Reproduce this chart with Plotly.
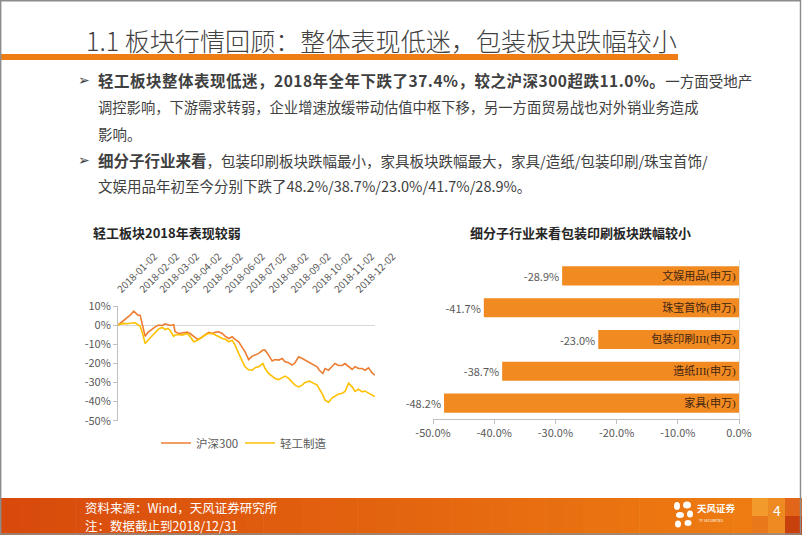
import plotly.graph_objects as go

W, H = 802, 535
def px(x): return x / W
def py(y): return 1 - y / H

# ---------------- data ----------------
dates = ['2018-01-02','2018-01-05','2018-01-10','2018-01-15','2018-01-19','2018-01-24','2018-01-26','2018-01-30',
         '2018-02-02','2018-02-06','2018-02-09','2018-02-13','2018-02-23','2018-02-28',
         '2018-03-05','2018-03-09','2018-03-13','2018-03-16','2018-03-21','2018-03-23','2018-03-28',
         '2018-04-02','2018-04-09','2018-04-13','2018-04-18','2018-04-23','2018-04-27',
         '2018-05-04','2018-05-09','2018-05-14','2018-05-18','2018-05-23','2018-05-28',
         '2018-06-01','2018-06-06','2018-06-11','2018-06-15','2018-06-20','2018-06-25','2018-06-29',
         '2018-07-04','2018-07-09','2018-07-13','2018-07-18','2018-07-24','2018-07-27',
         '2018-08-01','2018-08-06','2018-08-10','2018-08-15','2018-08-20','2018-08-24','2018-08-29',
         '2018-09-03','2018-09-07','2018-09-12','2018-09-17','2018-09-21','2018-09-27',
         '2018-10-08','2018-10-11','2018-10-16','2018-10-19','2018-10-24','2018-10-29',
         '2018-11-02','2018-11-07','2018-11-12','2018-11-16','2018-11-21','2018-11-26','2018-11-30',
         '2018-12-05','2018-12-10','2018-12-14','2018-12-19','2018-12-24','2018-12-28']

hs300 = [0, 0.9, 2.3, 3.7, 5.2, 7.3, 6.5, 5.2,
         5.2, -0.5, -5.8, -3.8, -0.9, 0.0,
         -0.2, 0.7, 0.2, -0.2, 0.2, -3.5, -4.4,
         -4.2, -3.7, -4.4, -6.1, -7.3, -7.0,
         -5.2, -3.8, -4.4, -3.8, -3.5, -4.4,
         -5.8, -7.0, -6.1, -7.5, -8.7, -11.3, -14.0,
         -18.0, -16.2, -15.7, -14.8, -13.1, -13.1,
         -15.7, -18.8, -18.0, -18.3, -17.5, -19.2, -19.7,
         -20.9, -19.7, -16.6, -17.5, -18.3, -19.2,
         -21.8, -23.6, -25.3, -22.7, -23.6, -21.5,
         -20.1, -21.1, -21.1, -20.1, -21.8, -23.2, -21.8,
         -22.7, -22.7, -23.6, -22.3, -25.0, -26.2]

light_ind = [0, 0.5, 0.9, 0.7, 1.0, 1.4, 1.2, 0.2,
             -0.5, -5.2, -9.6, -7.9, -4.0, -2.0,
             -1.2, -2.3, -1.7, -2.8, -5.8, -5.2, -4.9,
             -5.2, -4.4, -6.0, -8.7, -8.0, -7.0,
             -5.2, -4.4, -4.4, -5.0, -6.1, -7.0,
             -7.3, -8.7, -7.9, -10.5, -14.8, -18.3, -21.8,
             -23.4, -23.6, -22.3, -21.8, -20.1, -22.7,
             -25.3, -27.0, -27.9, -28.5, -27.4, -26.7, -27.9,
             -29.7, -31.4, -32.3, -31.4, -30.0, -29.3,
             -31.4, -33.2, -36.6, -39.3, -40.3, -38.0,
             -37.2, -36.0, -35.6, -34.7, -30.4, -32.3, -34.7,
             -33.5, -34.9, -34.5, -35.6, -36.6, -37.4]

month_ticks = ['2018-%02d-02' % m for m in range(1, 13)]
line_yticks = [10, 0, -10, -20, -30, -40, -50]
line_yticktext = ['10%', '0%', '-10%', '-20%', '-30%', '-40%', '-50%']

bar_cats = ['家具(申万)', '造纸III(申万)', '包装印刷III(申万)', '珠宝首饰(申万)', '文娱用品(申万)']
bar_vals = [-48.2, -38.7, -23.0, -41.7, -28.9]
bar_xticks = [-50, -40, -30, -20, -10, 0]
bar_xticktext = ['-50.0%', '-40.0%', '-30.0%', '-20.0%', '-10.0%', '0.0%']

# ---------------- styles ----------------
FONT = "Noto Sans CJK SC, Microsoft YaHei, sans-serif"
GRAY_TXT = '#595959'
ORANGE_LINE = '#ED7D31'
GOLD_LINE = '#FFC000'
BAR_COLOR = '#F28A22'

fig = go.Figure()

fig.add_trace(go.Scatter(x=dates, y=hs300, mode='lines', name='沪深300', legend='legend',
                         line=dict(color=ORANGE_LINE, width=1.6), xaxis='x', yaxis='y'))
fig.add_trace(go.Scatter(x=dates, y=light_ind, mode='lines', name='轻工制造', legend='legend2',
                         line=dict(color=GOLD_LINE, width=1.6), xaxis='x', yaxis='y'))

fig.add_trace(go.Bar(y=bar_cats, x=bar_vals, orientation='h', marker=dict(color=BAR_COLOR, line=dict(width=0)),
                     text=bar_cats, textposition='inside', insidetextanchor='start',
                     textfont=dict(size=11, color='#3F2612', family='Liberation Serif, Noto Sans CJK SC, serif'),
                     constraintext='none', showlegend=False, xaxis='x2', yaxis='y2', hoverinfo='skip'))
fig.add_trace(go.Bar(y=bar_cats, x=bar_vals, orientation='h', marker=dict(color='rgba(0,0,0,0)', line=dict(width=0)),
                     text=bar_vals, texttemplate='%{x:.1f}%', textposition='outside',
                     textfont=dict(size=11, color=GRAY_TXT, family=FONT), cliponaxis=False,
                     showlegend=False, xaxis='x2', yaxis='y2'))

shapes = []
shapes.append(dict(type='rect', xref='paper', yref='paper', x0=px(0), x1=px(678), y0=py(60), y1=py(54),
                   fillcolor='#ED7D14', line=dict(width=0)))
n = 40
c0 = (216, 74, 12)
c1 = (238, 124, 18)
for i in range(n):
    t = i / (n - 1)
    c = tuple(int(round(c0[k] + (c1[k] - c0[k]) * t)) for k in range(3))
    shapes.append(dict(type='rect', xref='paper', yref='paper',
                       x0=px(752 * i / n), x1=px(752 * (i + 1) / n + 0.6), y0=py(535), y1=py(498),
                       fillcolor='rgb(%d,%d,%d)' % c, line=dict(width=0)))
for (x0, x1, y0, y1, col) in [(752, 768, 498, 516, '#F39A2C'), (752, 768, 516, 535, '#E9781A'),
                              (768, 785, 498, 535, '#EE8A22'), (785, 802, 498, 516, '#E2661A'),
                              (785, 802, 516, 535, '#C8400C')]:
    shapes.append(dict(type='rect', xref='paper', yref='paper', x0=px(x0), x1=px(x1), y0=py(y1), y1=py(y0),
                       fillcolor=col, line=dict(width=0)))
for (cx, cy, rx, ry) in [(677, 506, 3, 4), (687, 505, 4, 3.5), (680, 515, 4, 3), (690, 514, 3, 3.5),
                         (678, 524, 3, 3.5), (688, 523, 3.5, 3)]:
    shapes.append(dict(type='circle', xref='paper', yref='paper', x0=px(cx - rx), x1=px(cx + rx),
                       y0=py(cy + ry), y1=py(cy - ry), fillcolor='white', line=dict(width=0)))
shapes.append(dict(type='rect', xref='paper', yref='paper', x0=px(0.7), x1=px(800.5), y0=py(534), y1=py(0.7),
                   line=dict(color='#8C8C8C', width=1.4), fillcolor='rgba(0,0,0,0)', layer='above'))

ann = []
def text(x, y, s, size=14, color='#404040', anchor='left', weight=None, family=FONT, yanchor='middle'):
    f = dict(size=size, color=color, family=family)
    if weight is not None:
        f['weight'] = weight
    ann.append(dict(xref='paper', yref='paper', x=px(x), y=py(y), text=s, showarrow=False,
                    xanchor=anchor, yanchor=yanchor, font=f))

text(84, 40, '1.1 板块行情回顾：整体表现低迷，包装板块跌幅较小', size=25.1, color='#404040', weight=300)

BODY = 14.5
B = '<span style="font-size:15.5px;letter-spacing:0.5px"><b>%s</b></span>'
text(76, 80, '➢', size=14, color='#404040', family='DejaVu Sans')
text(96, 80, (B % '轻工板块整体表现低迷，2018年全年下跌了37.4%，较之沪深300超跌11.0%。') + '一方面受地产', size=BODY)
text(96, 106.5, '调控影响，下游需求转弱，企业增速放缓带动估值中枢下移，另一方面贸易战也对外销业务造成', size=14.3)
text(96, 133, '影响。', size=BODY)
text(76, 159.5, '➢', size=14, color='#404040', family='DejaVu Sans')
text(96, 159.5, '<span style="font-size:15.5px"><b>细分子行业来看</b></span>，包装印刷板块跌幅最小，家具板块跌幅最大，家具/造纸/包装印刷/珠宝首饰/', size=BODY)
text(96, 186, '文娱用品年初至今分别下跌了48.2%/38.7%/23.0%/41.7%/28.9%。', size=BODY)

text(91, 232, '<b>轻工板块2018年表现较弱</b>', size=13, color='#262626')
text(580, 232, '<b>细分子行业来看包装印刷板块跌幅较小</b>', size=13, color='#262626', anchor='center')

text(83, 507, '资料来源：Wind，天风证券研究所', size=12.5, color='white')
text(83, 525, '注：数据截止到2018/12/31', size=12.5, color='white')
text(695, 508, '<b>天风证券</b>', size=9.5, color='white')
text(697, 520, 'TF SECURITIES', size=3.5, color='white')
text(777, 510, '4', size=14, color='white', anchor='center')

LEG = dict(orientation='h', yanchor='middle', xanchor='left', bgcolor='rgba(0,0,0,0)',
           font=dict(size=11.5, color=GRAY_TXT, family=FONT), itemwidth=30)

fig.update_layout(
    width=W, height=H, margin=dict(l=0, r=0, t=0, b=0, pad=0, autoexpand=False),
    paper_bgcolor='white', plot_bgcolor='rgba(0,0,0,0)',
    font=dict(family=FONT, color=GRAY_TXT),
    shapes=shapes, annotations=ann,
    barmode='overlay', bargap=0.4,
    showlegend=True,
    legend=dict(LEG, x=px(156), y=py(443)),
    legend2=dict(LEG, x=px(240), y=py(443)),
    xaxis=dict(domain=[px(118), px(375)], type='date', range=['2018-01-02', '2018-12-28'],
               side='top', tickvals=month_ticks, tickformat='%Y-%m-%d', tickangle=-45,
               tickfont=dict(size=10, color=GRAY_TXT), showgrid=False, showline=False, zeroline=False,
               ticks='outside', ticklen=6, tickcolor='rgba(0,0,0,0)', anchor='y', automargin=False),
    yaxis=dict(domain=[py(420.7), py(306)], range=[-50, 10], tickvals=line_yticks, ticktext=line_yticktext,
               tickfont=dict(size=11, color=GRAY_TXT), showgrid=False, showline=True, linecolor='#BFBFBF',
               ticks='outside', ticklen=4, tickcolor='#BFBFBF', zeroline=True, zerolinecolor='#D9D9D9',
               zerolinewidth=1, anchor='x', automargin=False),
    xaxis2=dict(domain=[px(433), px(739)], range=[-50, 0], tickvals=bar_xticks, ticktext=bar_xticktext,
                tickfont=dict(size=11, color=GRAY_TXT), showgrid=False, showline=True, linecolor='#BFBFBF',
                ticks='outside', ticklen=4, tickcolor='#BFBFBF', zeroline=False, anchor='y2', automargin=False),
    yaxis2=dict(domain=[py(419), py(260)], type='category', categoryorder='array', categoryarray=bar_cats,
                side='right', showticklabels=False, showline=True, linecolor='#E0E0E0',
                showgrid=False, zeroline=False, ticks='', anchor='x2', automargin=False),
)

fig.write_html('out.html', config={'displayModeBar': False},
               post_script="document.body.style.margin='0px';document.body.style.overflow='hidden';")
